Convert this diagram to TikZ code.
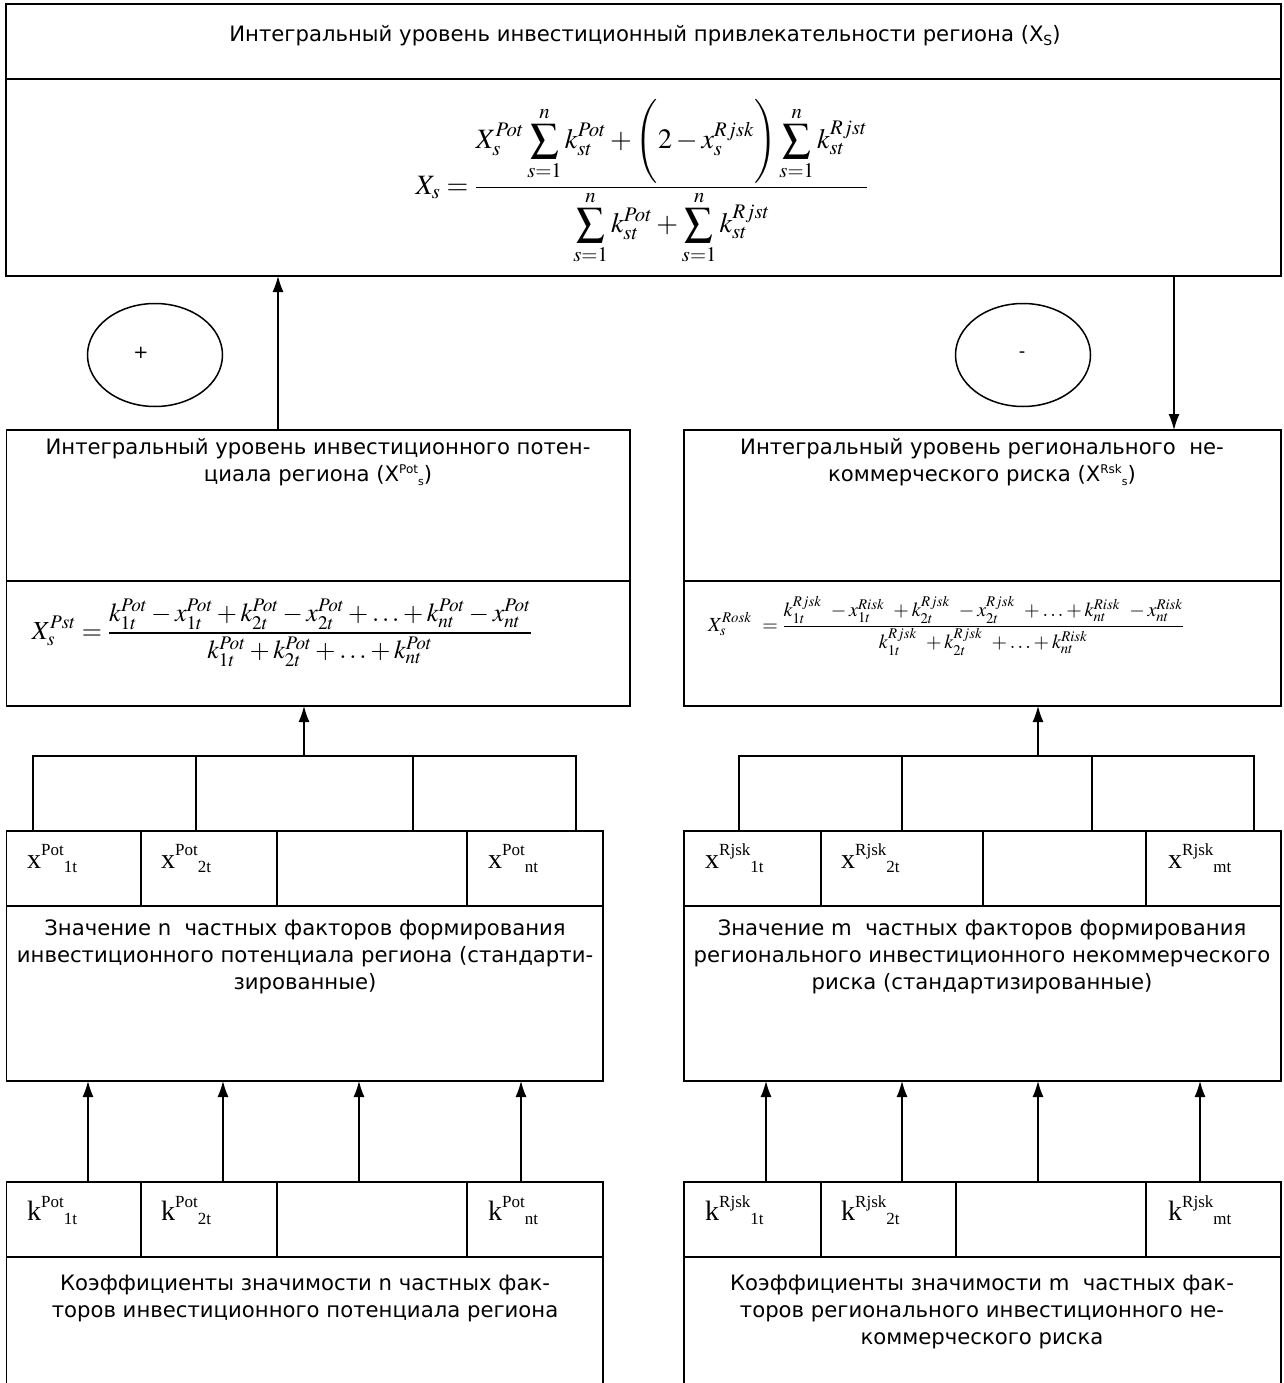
\documentclass[tikz,border=0pt]{standalone}
\usepackage{mathptmx}
\usepackage[no-math]{fontspec}
\setmainfont{DejaVu Sans}
\newfontfamily\tnr{Liberation Serif}
\usetikzlibrary{arrows.meta,shapes.geometric}
\newcommand\mybox[5]{\node[box,minimum width={(#4)*1pt-(#2)*1pt},minimum height={(#5)*1pt-(#3)*1pt}] (#1) at (#2,#3) {};}
\newcommand\cl[3]{#1\raisebox{13pt}{\fontsize{17}{17}\selectfont #2}\raisebox{-4pt}{\fontsize{17}{17}\selectfont #3}}
\newcommand\supsub[3]{#1\raisebox{8pt}{\fontsize{12}{12}\selectfont #2}\raisebox{-4pt}{\fontsize{11}{11}\selectfont #3}}
\begin{document}
\begin{tikzpicture}[x=1pt,y=-1pt,
  box/.style={draw,line width=1.9pt,rectangle,inner sep=0pt,outer sep=0pt,anchor=north west},
  arr/.style={-{Latex[length=16pt,width=11pt]},line width=1.3pt},
  wire/.style={line width=1.7pt},
  lbl/.style={font=\fontsize{21.2}{27}\selectfont,align=center,inner sep=0pt},
  cell/.style={font=\tnr\fontsize{28}{28}\selectfont,anchor=base west,inner sep=0pt},
  oval/.style={draw,ellipse,line width=1.5pt,minimum width=135pt,minimum height=103pt,inner sep=0pt},
  ]
\useasboundingbox (0,0) rectangle (1283,1383);
% top box
\mybox{topA}{6}{4}{1281}{79}
\mybox{topB}{6}{79}{1281}{276}
\node[lbl] (ttl) at (645,36) {Интегральный уровень инвестиционный привлекательности региона (X\raisebox{-4pt}{\fontsize{14}{14}\selectfont S})};
\node[inner sep=0pt] (fTop) at (642,182) {\fontsize{28}{34}\selectfont$\displaystyle X_s=\frac{\displaystyle X_s^{Pot}\sum\limits_{s=1}^{n}k_{st}^{Pot}+\Biggl(2-x_s^{Rjsk}\Biggr)\sum\limits_{s=1}^{n}k_{st}^{Rjst}}{\displaystyle \sum\limits_{s=1}^{n}k_{st}^{Pot}+\sum\limits_{s=1}^{n}k_{st}^{Rjst}}$};
% ellipses
\node[oval] (plus) at (155,355) {};
\node[font=\fontsize{18}{18}\selectfont,inner sep=0pt] (plusT) at (141,353) {+};
\node[oval] (minus) at (1023,355) {};
\node[font=\fontsize{18}{18}\selectfont,inner sep=0pt] (minusT) at (1022,355) {-};
% middle boxes
\mybox{lbA}{6.5}{430}{630}{581}
\mybox{lbB}{6.5}{581}{630}{706}
\mybox{rbA}{684}{430}{1281}{581}
\mybox{rbB}{684}{581}{1281}{706}
\node[lbl] (lbT) at (318,462) {Интегральный уровень инвестиционного потен-\\циала региона (\supsub{X}{Pot}{s})};
\node[lbl] (rbT) at (982,462) {Интегральный уровень регионального\ \ не-\\коммерческого риска (\supsub{X}{Rsk}{s})};
\node[inner sep=0pt] (lbF) at (282,633) {\fontsize{26}{30}\selectfont$\displaystyle X_s^{Pst}=\frac{k_{1t}^{Pot}-x_{1t}^{Pot}+k_{2t}^{Pot}-x_{2t}^{Pot}+\ldots+k_{nt}^{Pot}-x_{nt}^{Pot}}{k_{1t}^{Pot}+k_{2t}^{Pot}+\ldots+k_{nt}^{Pot}}$};
\node[inner sep=0pt] (rbF) at (946,626) {\fontsize{20}{24}\selectfont$\displaystyle X_s^{Rosk}\ =\frac{k_{1t}^{Rjsk}\ -x_{1t}^{Risk}\ +k_{2t}^{Rjsk}\ -x_{2t}^{Rjsk}\ +\ldots+k_{nt}^{Risk}\ -x_{nt}^{Risk}}{k_{1t}^{Rjsk}\ +k_{2t}^{Rjsk}\ +\ldots+k_{nt}^{Risk}}$};
% arrows between levels
\coordinate (aL) at (278,0);
\coordinate (aR) at (1174,0);
\draw[arr] (lbA.north -| aL) -- (topB.south -| aL);
\draw[arr] (topB.south -| aR) -- (rbA.north -| aR);
% x cells
\mybox{xl1}{6.5}{831}{141}{906}
\mybox{xl2}{141}{831}{277}{906}
\mybox{xl3}{277}{831}{467}{906}
\mybox{xl4}{467}{831}{603}{906}
\mybox{xr1}{684}{831}{821}{906}
\mybox{xr2}{821}{831}{983}{906}
\mybox{xr3}{983}{831}{1146}{906}
\mybox{xr4}{1146}{831}{1281}{906}
\node[cell] (xl1t) at (27,868) {\cl{x}{Pot}{1t}};
\node[cell] (xl2t) at (161,868) {\cl{x}{Pot}{2t}};
\node[cell] (xl4t) at (488,868) {\cl{x}{Pot}{nt}};
\node[cell] (xr1t) at (705,868) {\cl{x}{Rjsk}{1t}};
\node[cell] (xr2t) at (841,868) {\cl{x}{Rjsk}{2t}};
\node[cell] (xr4t) at (1168,868) {\cl{x}{Rjsk}{mt}};
% brackets
\coordinate (jL) at (304,756);
\coordinate (jR) at (1038,756);
\draw[wire] (33,831) -- (33,756) -- (576,756) -- (576,831);
\draw[wire] (196,756) -- (196,831);
\draw[wire] (413,756) -- (413,831);
\draw[wire] (739,831) -- (739,756) -- (1254,756) -- (1254,831);
\draw[wire] (902,756) -- (902,831);
\draw[wire] (1092,756) -- (1092,831);
\draw[arr] (jL) -- (lbB.south -| jL);
\draw[arr] (jR) -- (rbB.south -| jR);
% big boxes
\mybox{vl}{6.5}{906}{603}{1081}
\mybox{vr}{684}{906}{1281}{1081}
\node[lbl] (vlT) at (305,957) {Значение n\ \ частных факторов формирования\\инвестиционного потенциала региона (стандарти-\\зированные)};
\node[lbl] (vrT) at (982,957) {Значение m\ \ частных факторов формирования\\регионального инвестиционного некоммерческого\\риска (стандартизированные)};
% k cells
\mybox{kl1}{6.5}{1182}{141}{1257}
\mybox{kl2}{141}{1182}{277}{1257}
\mybox{kl3}{277}{1182}{467}{1257}
\mybox{kl4}{467}{1182}{603}{1257}
\mybox{kr1}{684}{1182}{821}{1257}
\mybox{kr2}{821}{1182}{956}{1257}
\mybox{kr3}{956}{1182}{1146}{1257}
\mybox{kr4}{1146}{1182}{1281}{1257}
\node[cell] (kl1t) at (27,1220) {\cl{k}{Pot}{1t}};
\node[cell] (kl2t) at (161,1220) {\cl{k}{Pot}{2t}};
\node[cell] (kl4t) at (488,1220) {\cl{k}{Pot}{nt}};
\node[cell] (kr1t) at (705,1220) {\cl{k}{Rjsk}{1t}};
\node[cell] (kr2t) at (841,1220) {\cl{k}{Rjsk}{2t}};
\node[cell] (kr4t) at (1168,1220) {\cl{k}{Rjsk}{mt}};
% arrows k -> values
\foreach \n/\x in {kl1/88,kl2/223,kl3/359,kl4/521}{
  \coordinate (c\n) at (\x,0);
  \draw[arr] (\n.north -| c\n) -- (vl.south -| c\n);}
\foreach \n/\x in {kr1/766,kr2/902,kr3/1038,kr4/1200}{
  \coordinate (c\n) at (\x,0);
  \draw[arr] (\n.north -| c\n) -- (vr.south -| c\n);}
% bottom boxes (open at the bottom)
\draw[line width=1.9pt] (6.5,1383) -- (6.5,1257) -- (603,1257) -- (603,1383);
\draw[line width=1.9pt] (684,1383) -- (684,1257) -- (1281,1257) -- (1281,1383);
\node[lbl] (klT) at (305,1298) {Коэффициенты значимости n частных фак-\\торов инвестиционного потенциала региона};
\node[lbl] (krT) at (982,1312) {Коэффициенты значимости m\ \ частных фак-\\торов регионального инвестиционного не-\\коммерческого риска};
\end{tikzpicture}
\end{document}
